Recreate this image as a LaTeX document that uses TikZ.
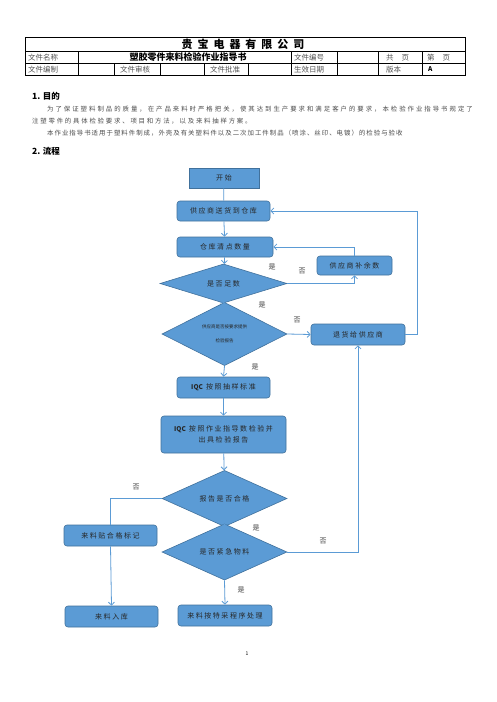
\documentclass[tikz,border=0pt]{standalone}
\usepackage{fontspec}
\setmainfont{Noto Sans CJK SC}
\newfontfamily\cjk{Noto Sans CJK SC}
\usetikzlibrary{shapes.geometric,arrows.meta}
\definecolor{blu}{HTML}{5B9BD5}
\definecolor{bdr}{HTML}{41719C}
\definecolor{lnk}{HTML}{5B9BD5}
\definecolor{gtxt}{HTML}{555555}
\newcommand{\iqctxt}{{\cjk\fontsize{6.5}{8}\selectfont\bfseries IQC}}
\tikzset{
  box/.style={draw=bdr, fill=blu, line width=0.6pt, rounded corners=3pt, inner sep=1pt, align=center,
    font=\fontsize{7}{9}\selectfont\addfontfeature{LetterSpace=22}, text=black!85},
  sbox/.style={box, rounded corners=0pt},
  dia/.style={draw=bdr, fill=blu, line width=0.6pt, diamond, inner sep=0pt, align=center,
    font=\fontsize{7}{9}\selectfont\addfontfeature{LetterSpace=22}, text=black!85},
  conn/.style={draw=lnk, line width=0.8pt},
  arr/.style={conn, -{Straight Barb[length=3pt,width=6pt]}},
  lbl/.style={font=\fontsize{7}{8}\selectfont, text=black!75, inner sep=0pt},
  cell/.style={font=\fontsize{7.5}{8}\selectfont, text=gtxt, inner sep=0pt, anchor=west},
  para/.style={font=\fontsize{6.4}{8}\selectfont, text=black!70, inner sep=0pt, anchor=west},
  head/.style={font=\fontsize{8.5}{10}\selectfont\bfseries, inner sep=0pt, anchor=west},
  tline/.style={draw=black, line width=0.5pt}
}
\begin{document}
\begin{tikzpicture}[x=1pt,y=-1pt]
\useasboundingbox (0,0) rectangle (496,702);
\fill[white] (0,0) rectangle (496,702);
% ---- header table ----
\draw[tline] (25,37) rectangle (465,75.5);
\draw[tline] (25,51) -- (465,51);
\draw[tline] (25,63.5) -- (465,63.5);
\foreach \x in {78,291,337,378,422} \draw[tline] (\x,51) -- (\x,75.5);
\foreach \x in {114,160,204,248} \draw[tline] (\x,63.5) -- (\x,75.5);
\node[font=\fontsize{11}{12}\selectfont\bfseries\addfontfeature{LetterSpace=45}, inner sep=0pt] (company) at (243,44) {贵宝电器有限公司};
\node[cell] (c1) at (28,57.3) {文件名称};
\node[font=\fontsize{9}{10}\selectfont\bfseries, inner sep=0pt] (title) at (188,57.3) {塑胶零件来料检验作业指导书};
\node[cell] (c2) at (294,57.3) {文件编号};
\node[cell] (c3) at (386,57.3) {共\hspace{8pt}页};
\node[cell] (c4) at (427,57.3) {第\hspace{8pt}页};
\node[cell] (c5) at (28,69.5) {文件编制};
\node[cell] (c6) at (120,69.5) {文件审核};
\node[cell] (c7) at (210,69.5) {文件批准};
\node[cell] (c8) at (294,69.5) {生效日期};
\node[cell] (c9) at (386,69.5) {版本};
\node[cell, text=black, font=\fontsize{6.5}{8}\selectfont\bfseries] (c10) at (428,69.5) {A};
% ---- text ----
\node[head] (h1) at (32,96) {1. 目的};
\node[para, font=\fontsize{6.4}{8}\selectfont\addfontfeature{LetterSpace=31}] (p1) at (47,109) {为了保证塑料制品的质量，在产品来料时严格把关，使其达到生产要求和满足客户的要求，本检验作业指导书规定了};
\node[para, font=\fontsize{6.4}{8}\selectfont\addfontfeature{LetterSpace=28}] (p2) at (32,121) {注塑零件的具体检验要求、项目和方法，以及来料抽样方案。};
\node[para, font=\fontsize{6.4}{8}\selectfont\addfontfeature{LetterSpace=16}] (p3) at (47,133) {本作业指导书适用于塑料件制成，外壳及有关塑料件以及二次加工件制品（喷涂、丝印、电镀）的检验与验收};
\node[head] (h2) at (32,151) {2. 流程};
% ---- flowchart nodes ----
\node[sbox, minimum width=70pt, minimum height=20pt] (start) at (224,178) {开始};
\node[box, minimum width=93pt, minimum height=20pt] (deliver) at (223.5,211) {供应商送货到仓库};
\node[box, minimum width=96pt, minimum height=20pt] (count) at (225,247) {仓库清点数量};
\node[dia, minimum width=127pt, minimum height=35pt] (d1) at (223.5,283.5) {是否足数};
\node[box, minimum width=75pt, minimum height=19pt] (supp) at (354.5,265.5) {供应商补余数};
\node[dia, minimum width=125pt, minimum height=56pt, font=\fontsize{4.5}{14}\selectfont] (d2) at (224.5,334) {供应商是否按要求提供\\检验报告};
\node[box, minimum width=94pt, minimum height=21pt] (ret) at (358,334.5) {退货给供应商};
\node[box, minimum width=93pt, minimum height=21pt] (iqc1) at (223.5,387.5) {\iqctxt\ 按照抽样标准};
\node[box, minimum width=125pt, minimum height=37pt, font=\fontsize{7}{11}\selectfont\addfontfeature{LetterSpace=22}] (iqc2) at (223.5,434.5) {\iqctxt\ 按照作业指导数检验并\\出具检验报告};
\node[dia, minimum width=125pt, minimum height=37pt] (d3) at (224.5,498.5) {报告是否合格};
\node[box, minimum width=93pt, minimum height=21pt] (mark) at (110.5,535.5) {来料贴合格标记};
\node[dia, minimum width=125pt, minimum height=34pt] (d4) at (224.5,552) {是否紧急物料};
\node[box, minimum width=93pt, minimum height=21pt] (store) at (111.5,616.5) {来料入库};
\node[box, minimum width=94pt, minimum height=21pt] (special) at (225,615.5) {来料按特采程序处理};
\coordinate (loopR) at (417,334.5);
% ---- connectors ----
\draw[conn] (start) -- (deliver);
\draw[arr] (deliver) -- (count);
\draw[arr] (count) -- (d1);
\draw[arr] (d1.east) -| (supp.south);
\draw[arr] (supp.north) |- (count.east);
\draw[arr] (d1.south) -- (d2.north);
\draw[arr] (d2.east) -- (ret.west);
\draw[arr] (ret.east) -- (loopR) |- (deliver.east);
\draw[arr] (d2.south) -- (iqc1.north);
\draw[arr] (iqc1) -- (iqc2);
\draw[arr] (iqc2) -- (d3);
\draw[conn] (d3.west) -| (mark.north);
\draw[arr] (d3.south) -- (d4.north);
\draw[arr] (d4.east) -| (ret.south);
\draw[arr] (d4.south) -- (special.north);
\draw[arr] (mark.south) -- (store.north);
% ---- labels ----
\node[lbl] (y1) at (272,267) {是};
\node[lbl] (n1) at (302,271) {否};
\node[lbl] (y2) at (262,305) {是};
\node[lbl] (n2) at (297,320) {否};
\node[lbl] (y3) at (255,367) {是};
\node[lbl] (n3) at (136,487) {否};
\node[lbl] (y4) at (256,528) {是};
\node[lbl] (n4) at (323,541) {否};
\node[lbl] (y5) at (241,590) {是};
\node[font=\fontsize{5}{6}\selectfont, inner sep=0pt] (pg) at (247,654) {1};
\end{tikzpicture}
\end{document}
